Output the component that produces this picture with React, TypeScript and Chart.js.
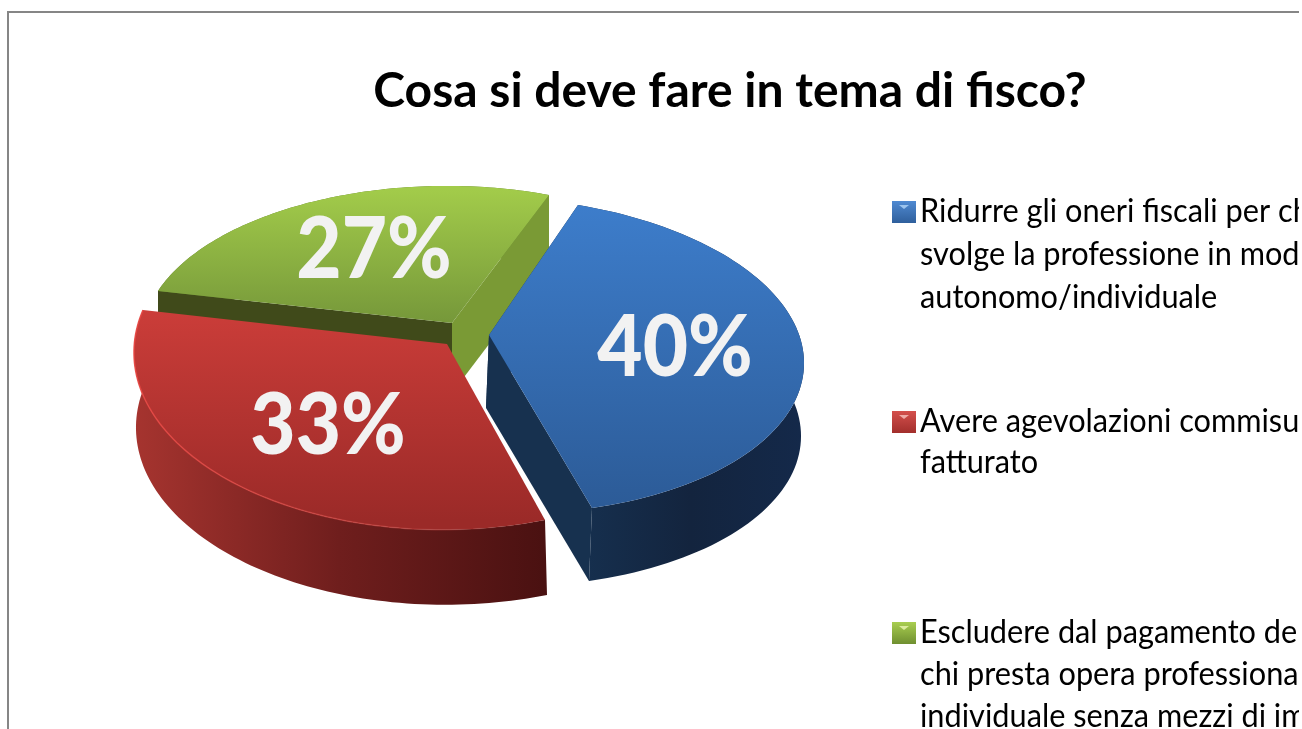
import React, { useEffect, useRef } from "react";
import { Chart, registerables } from "chart.js";

Chart.register(...registerables);

const titleText = "Cosa si deve fare in tema di fisco?";
const categories = [
  "Ridurre gli oneri fiscali per chi svolge la professione in modo autonomo/individuale",
  "Avere agevolazioni commisurate al fatturato",
  "Escludere dal pagamento dell'IRAP chi presta opera professionale in forma individuale senza mezzi di impresa",
];
const legendLines = [
  ["Ridurre gli oneri fiscali per chi", "svolge la professione in modo", "autonomo/individuale"],
  ["Avere agevolazioni commisurate al", "fatturato"],
  ["Escludere dal pagamento dell'IRAP", "chi presta opera professionale in forma", "individuale senza mezzi di impresa"],
];
const values = [40, 33, 27];
const firstSliceAngle = 20;

type P = [number, number];
// perspective of each pie slice: inner corner, outer corners, middle of the rim, extrusion
const frames: { tip: P; a: P; b: P; mid: P; depth: P }[] = [
  { tip: [489, 335], a: [578, 205], b: [592, 508], mid: [802, 345], depth: [-3, 73] },
  { tip: [447, 344], a: [545, 520], b: [143, 310], mid: [232, 482], depth: [2, 75] },
  { tip: [452, 323], a: [158, 291], b: [549, 195], mid: [320, 200], depth: [0, 70] },
];
const topStops = [
  { y0: 205, y1: 508, c0: "#3d7dcb", c1: "#2c5b97" },
  { y0: 310, y1: 520, c0: "#cb3d39", c1: "#9b2a28" },
  { y0: 190, y1: 322, c0: "#a2cb4a", c1: "#76983a" },
];
const rimStops = [
  ["#16304f", "#13243e", "#14294a"],
  ["#a6342f", "#6f1e1d", "#4a1111"],
  ["#5d7a2c", "#5d7a2c", "#5d7a2c"],
];
const startWall = ["#17314f", "#7a1f1c", "#404a1a"];
const endWall = ["#17314f", "#7a1f1c", "#7a9a35"];
const labelCentres: P[] = [[675, 345], [328, 423], [374, 247]];
const legendY = [222, 432, 643];
const legendPitch = [43, 41, 42];
const swatchColors = [
  ["#4f8ad2", "#2f5f9c"],
  ["#d4504c", "#a22f2c"],
  ["#a9ce50", "#6f8f30"],
];
const swatchMark = ["#9cc4ee", "#eeaaa6", "#dcec9c"];

function solve(A: number[][], r: number[]) {
  const n = r.length;
  const M = A.map((row, i) => [...row, r[i]]);
  for (let i = 0; i < n; i++) {
    let piv = i;
    for (let k = i + 1; k < n; k++) if (Math.abs(M[k][i]) > Math.abs(M[piv][i])) piv = k;
    [M[i], M[piv]] = [M[piv], M[i]];
    for (let k = 0; k < n; k++) {
      if (k === i) continue;
      const q = M[k][i] / M[i][i];
      for (let j = i; j <= n; j++) M[k][j] -= q * M[i][j];
    }
  }
  return M.map((row, i) => row[n] / row[i]);
}

function buildSlice(arc: any, f: { tip: P; a: P; b: P; mid: P }) {
  const s = arc.startAngle, e = arc.endAngle;
  const corr: [number, P][] = [[s, f.a], [e, f.b], [(s + e) / 2, f.mid]];
  const A: number[][] = [];
  const r: number[] = [];
  for (const [ang, P0] of corr) {
    const x = Math.cos(ang), y = Math.sin(ang);
    const vx = P0[0] - f.tip[0], vy = P0[1] - f.tip[1];
    A.push([x, y, 0, 0, -vx * x, -vx * y]);
    r.push(vx);
    A.push([0, 0, x, y, -vy * x, -vy * y]);
    r.push(vy);
  }
  const [m00, m01, m10, m11, g, h] = solve(A, r);
  const pts: P[] = [];
  const steps = 90;
  for (let i = 0; i <= steps; i++) {
    const t = s + ((e - s) * i) / steps;
    const c = Math.cos(t), n = Math.sin(t);
    const w = 1 + g * c + h * n;
    pts.push([f.tip[0] + (m00 * c + m01 * n) / w, f.tip[1] + (m10 * c + m11 * n) / w]);
  }
  return pts;
}

function poly(ctx: CanvasRenderingContext2D, pts: P[]) {
  ctx.beginPath();
  pts.forEach((p, i) => (i ? ctx.lineTo(p[0], p[1]) : ctx.moveTo(p[0], p[1])));
  ctx.closePath();
}

function fitText(ctx: CanvasRenderingContext2D, text: string, x: number, y: number, sx: number) {
  ctx.save();
  ctx.translate(x, y);
  ctx.scale(sx, 1);
  ctx.fillText(text, 0, 0);
  ctx.restore();
}

const pie3d = {
  id: "pie3d",
  beforeDraw(chart: any) {
    const { ctx, width, height } = chart;
    ctx.save();
    ctx.fillStyle = "#ffffff";
    ctx.fillRect(0, 0, width, height);
    ctx.strokeStyle = "#868686";
    ctx.lineWidth = 2;
    ctx.strokeRect(8, 12, width, height);
    ctx.restore();
  },
  beforeDatasetsDraw(chart: any) {
    const ctx: CanvasRenderingContext2D = chart.ctx;
    const arcs = chart.getDatasetMeta(0).data;
    const order = [2, 0, 1];
    for (const i of order) {
      const f = frames[i];
      const pts = buildSlice(arcs[i], f);
      const d = f.depth;
      const down = (p: P): P => [p[0] + d[0], p[1] + d[1]];
      // outer rim
      const xs = pts.map((p) => p[0]);
      const x0 = Math.min(...xs), x1 = Math.max(...xs);
      const rim = ctx.createLinearGradient(x0, 0, x1, 0);
      rim.addColorStop(0, rimStops[i][0]);
      rim.addColorStop(0.5, rimStops[i][1]);
      rim.addColorStop(1, rimStops[i][2]);
      poly(ctx, [...pts, ...pts.map(down).reverse()]);
      ctx.fillStyle = rim;
      ctx.fill();
      // cut walls
      const last = pts[pts.length - 1];
      if (i !== 1) {
        poly(ctx, [f.tip, pts[0], down(pts[0]), down(f.tip)]);
        ctx.fillStyle = startWall[i];
        ctx.fill();
        poly(ctx, [f.tip, last, down(last), down(f.tip)]);
        ctx.fillStyle = endWall[i];
        ctx.fill();
      }
      // top face
      const st = topStops[i];
      const g = ctx.createLinearGradient(0, st.y0, 0, st.y1);
      g.addColorStop(0, st.c0);
      g.addColorStop(1, st.c1);
      poly(ctx, [f.tip, ...pts]);
      ctx.fillStyle = g;
      ctx.fill();
      // bevel on the rim
      if (i === 1) {
        const b = ctx.createLinearGradient(x0, 0, x1, 0);
        b.addColorStop(0, "rgba(232,70,66,0.9)");
        b.addColorStop(0.6, "rgba(205,70,66,0.6)");
        b.addColorStop(1, "rgba(140,40,38,0.1)");
        ctx.beginPath();
        pts.forEach((p, k) => (k ? ctx.lineTo(p[0], p[1]) : ctx.moveTo(p[0], p[1])));
        ctx.strokeStyle = b;
        ctx.lineWidth = 1.5;
        ctx.stroke();
      }
    }
    // percentage labels
    ctx.save();
    ctx.font = "900 85px Lato";
    ctx.fillStyle = "#f2f2f2";
    ctx.textAlign = "center";
    ctx.textBaseline = "alphabetic";
    values.forEach((v, i) => {
      fitText(ctx, v + "%", labelCentres[i][0], labelCentres[i][1] + 31, 0.92);
    });
    ctx.restore();
    // legend
    ctx.save();
    ctx.textAlign = "left";
    ctx.textBaseline = "alphabetic";
    legendLines.forEach((lines, i) => {
      const sy = legendY[i] - 21;
      const g = ctx.createLinearGradient(0, sy, 0, sy + 22);
      g.addColorStop(0, swatchColors[i][0]);
      g.addColorStop(1, swatchColors[i][1]);
      ctx.fillStyle = g;
      ctx.fillRect(892, sy, 24, 22);
      ctx.fillStyle = swatchMark[i];
      ctx.beginPath();
      ctx.moveTo(899, sy + 4);
      ctx.lineTo(909, sy + 4);
      ctx.lineTo(904, sy + 8);
      ctx.closePath();
      ctx.fill();
      ctx.font = "32px Lato";
      ctx.fillStyle = "#000000";
      lines.forEach((t, k) => {
        fitText(ctx, t, 920, legendY[i] + k * legendPitch[i], 0.96);
      });
    });
    ctx.restore();
    return false;
  },
};

export default function App() {
  const ref = useRef<HTMLCanvasElement>(null);
  useEffect(() => {
    const chart = new Chart(ref.current!, {
      type: "pie",
      data: {
        labels: categories,
        datasets: [{ data: values, borderWidth: 0, backgroundColor: ["#3d7dcb", "#cb3d39", "#a2cb4a"] }],
      },
      options: {
        animation: false,
        responsive: false,
        devicePixelRatio: 1,
        rotation: firstSliceAngle,
        plugins: {
          legend: { display: false },
          tooltip: { enabled: false },
          title: {
            display: true,
            text: titleText,
            color: "#000000",
            font: { family: "Lato", weight: "bold", size: 48 },
            padding: { top: 63, bottom: 10 },
          },
        },
      },
      plugins: [pie3d],
    } as any);
    return () => chart.destroy();
  }, []);
  return (
    <div style={{ position: "fixed", left: 0, top: 0, width: 1299, height: 729, overflow: "hidden", background: "#fff" }}>
      <canvas ref={ref} width={1460} height={800} style={{ display: "block" }} />
    </div>
  );
}
